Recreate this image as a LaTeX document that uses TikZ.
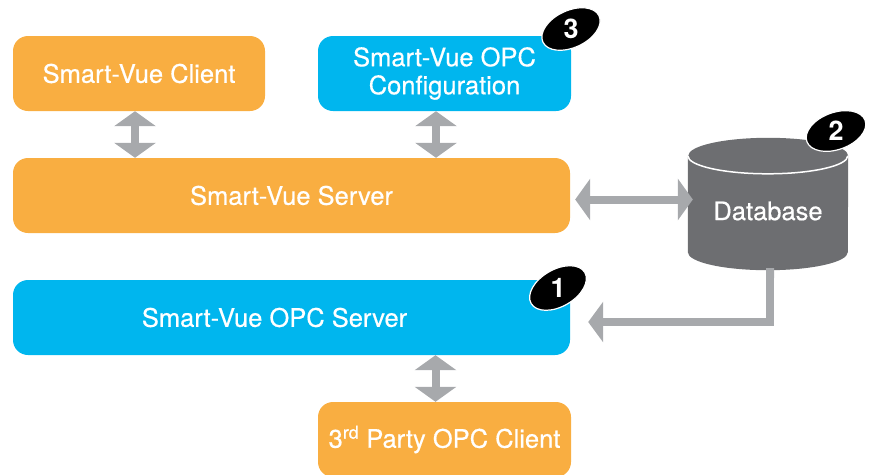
\documentclass[tikz,border=0pt]{standalone}
\usepackage{fontspec}
\setmainfont{TeX Gyre Heros}
\newfontfamily\caixafont[FakeBold=0.5]{TeX Gyre Heros}
\usetikzlibrary{calc,arrows.meta,shapes.geometric}
\definecolor{svorange}{HTML}{F9AE41}
\definecolor{svcyan}{HTML}{00B6EE}
\definecolor{setagray}{HTML}{A7A9AC}
\definecolor{dbgray}{HTML}{6D6E71}

\begin{document}
\begin{tikzpicture}[x=1pt,y=-1pt]
\tikzstyle{box} = [rounded corners=15pt,minimum height=75pt,text=white,font=\caixafont\fontsize{25.5}{28}\selectfont,align=center,inner sep=0pt]
\tikzstyle{boxtext} = [text=white,font=\caixafont\fontsize{25.5}{28}\selectfont]
\tikzstyle{seta} = [line width=8pt,draw=setagray,{Triangle[width=41pt,length=15pt]}-{Triangle[width=41pt,length=15pt]}]
\tikzstyle{badge} = [ellipse,fill=black,draw=white,line width=1.2pt,minimum width=62pt,minimum height=37pt,inner sep=0pt]
\tikzstyle{num} = [text=white,font=\fontsize{27}{27}\selectfont\bfseries]

\useasboundingbox (0,0) rectangle (872,474);
\clip (0,0) rectangle (872,474);

%%%%%% Caixas
\node[box,fill=svorange,minimum width=252pt] (client) at (139,73.5) {Smart-Vue Client};
\node[box,fill=svcyan,minimum width=253pt] (config) at (444.5,73.5) {Smart-Vue OPC\\Configuration};
\node[box,fill=svorange,minimum width=557pt] (server) at (291.5,195.5) {Smart-Vue Server};
\node[box,fill=svcyan,minimum width=557pt,
  label={[boxtext,xshift=-17pt]center:Smart-Vue OPC Server}] (opcsrv) at (291.5,317.5) {};
\node[box,fill=svorange,minimum width=253pt] (third) at (444.5,439.5) {3\textsuperscript{rd} Party OPC Client};

%%%%%% Database
\node[inner sep=0pt,minimum width=160pt,minimum height=132pt] (db) at (768,204) {};
\fill[dbgray] ([yshift=-18pt]db.north west) -- ([yshift=18pt]db.south west)
  arc[start angle=180,end angle=0,x radius=80,y radius=18]
  -- ([yshift=-18pt]db.north east)
  arc[start angle=0,end angle=-180,x radius=80,y radius=18] -- cycle;
\draw[white,line width=1.5pt] ([yshift=-18pt]db.north west) arc[start angle=180,end angle=0,x radius=80,y radius=18];
\node[boxtext] (dblabel) at ([yshift=-7pt]db.center) {Database};

%%%%%% Setas
\draw[seta] ([xshift=-4pt]client.south) -- ([xshift=-4pt]client.south |- server.north);
\draw[seta] ([xshift=-8.5pt]config.south) -- ([xshift=-8.5pt]config.south |- server.north);
\draw[seta] ([xshift=-9pt]third.north) -- ([xshift=-9pt]third.north |- opcsrv.south);
\draw[seta] ([shift={(5,4)}]server.east) -- ([shift={(5,4)}]server.east -| db.west);
\draw[seta,{Butt Cap}-{Triangle[width=40pt,length=15pt]}] ([xshift=2pt,yshift=2pt]db.south) |- ([shift={(18,4.5)}]opcsrv.east);

%%%%%% Numeros
\node[badge,rotate=25] (b3) at (571,29) {};
\node[num] at (b3) {3};
\node[badge,rotate=20] (b2) at (836,131) {};
\node[num] at (b2) {2};
\node[badge,rotate=30] (b1) at (558,288) {};
\node[num] at (b1) {1};
\end{tikzpicture}
\end{document}
